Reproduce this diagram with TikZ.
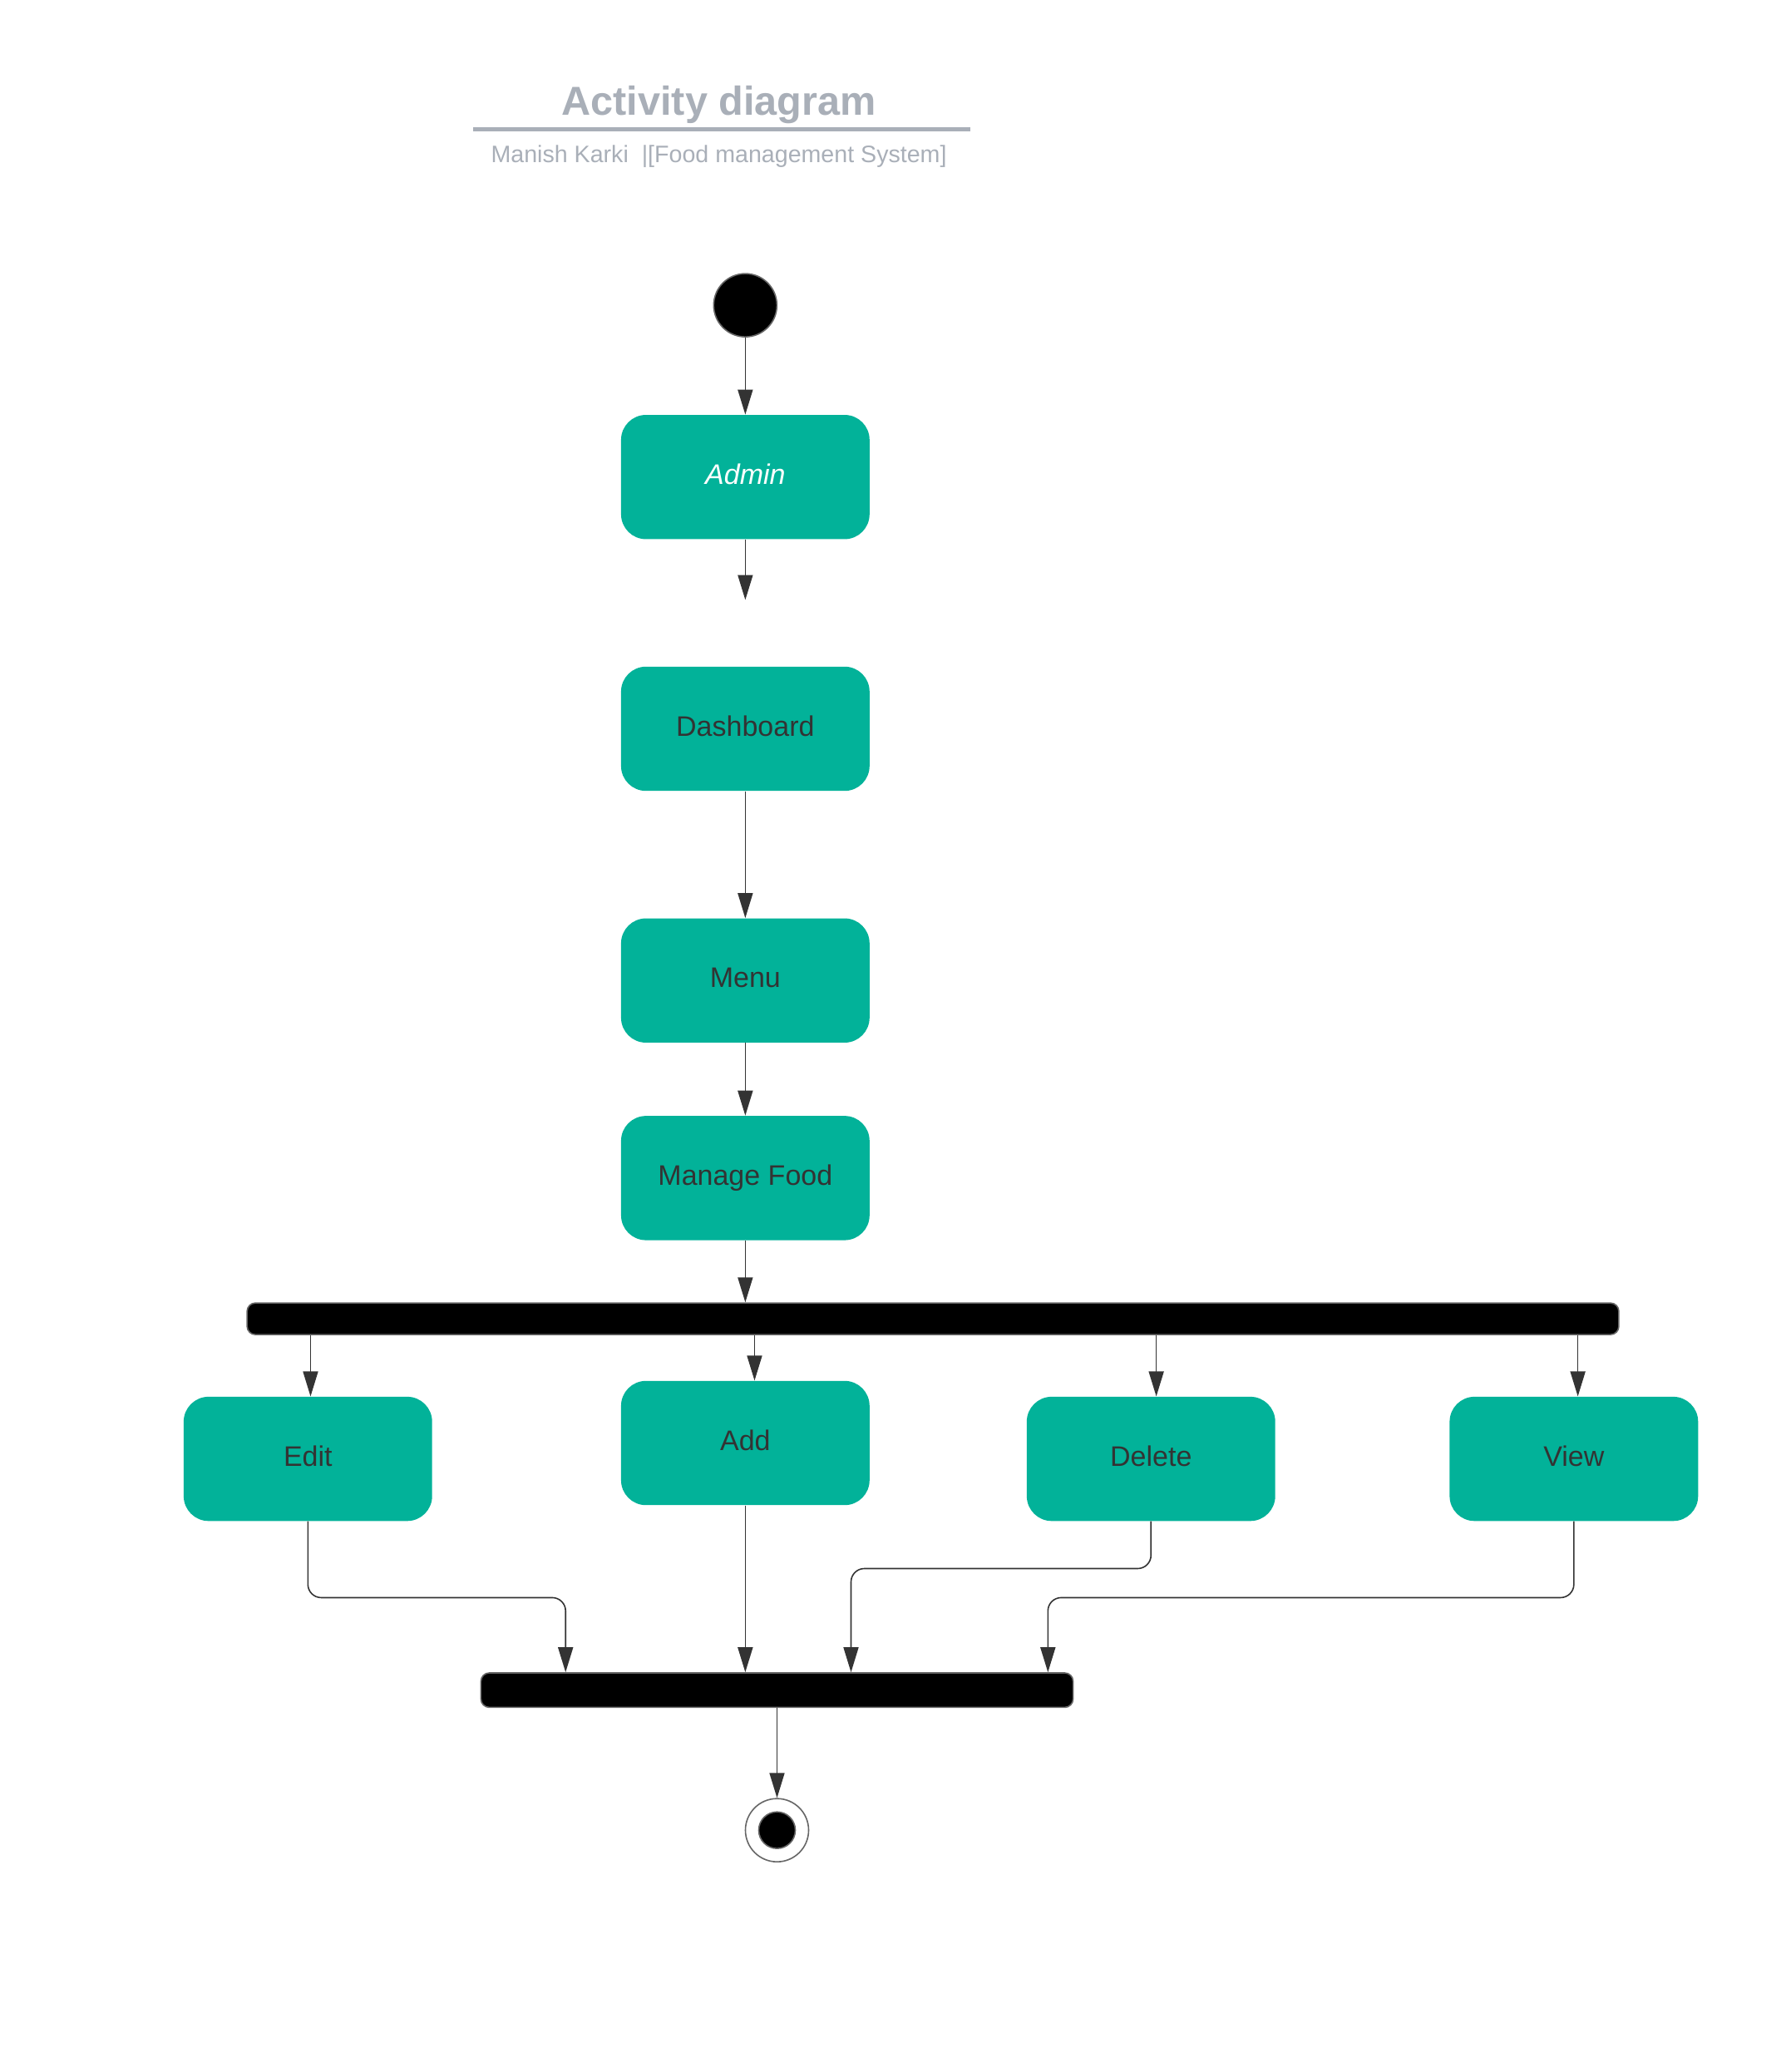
\documentclass[tikz,border=0pt]{standalone}
\usepackage{fontspec}
\setmainfont{Liberation Sans}
\usetikzlibrary{arrows.meta}
\definecolor{actteal}{HTML}{02B299}
\definecolor{ink}{HTML}{333333}
\definecolor{titlegray}{HTML}{A9AFB8}
\definecolor{rimgray}{HTML}{666666}
\begin{document}
\begin{tikzpicture}[x=0.7945pt,y=-0.7945pt,
  activity/.style={rectangle, rounded corners=15pt, fill=actteal,
    minimum width=149.4pt, minimum height=74.7pt, inner sep=0pt,
    text depth=3.6pt, text=ink, font=\fontsize{17}{20}\selectfont},
  syncbar/.style={rectangle, rounded corners=5pt, fill=black,
    draw=rimgray, line width=0.8pt, inner sep=0pt},
  flow/.style={draw=ink, line width=0.8pt, rounded corners=8pt,
    -{Triangle[length=15pt,width=9pt]}},
]
\useasboundingbox (0,0) rectangle (1355,1568);

% heading
\node[text=titlegray, font=\fontsize{24.3}{28}\selectfont\bfseries] (title) at (544,79.5) {Activity diagram};
\coordinate (ruleL) at (358,98);
\coordinate (ruleR) at (734,98);
\draw[titlegray, line width=2.4pt] (ruleL) -- (ruleR);
\node[text=titlegray, font=\fontsize{14.3}{17}\selectfont] (subtitle) at (544,118.5) {Manish Karki\ \ |[Food management System]};

% start state
\node[circle, fill=black, draw=rimgray, line width=0.8pt, minimum size=38pt, inner sep=0pt] (start) at (564,231) {};

% activities
\node[activity, text=white, font=\fontsize{17}{20}\selectfont\itshape] (admin) at (564,361) {Admin};
\coordinate (adminout) at (564,454);
\node[activity] (dash) at (564,551.5) {Dashboard};
\node[activity] (menu) at (564,742) {Menu};
\node[activity] (manage) at (564,891.5) {Manage Food};

% fork
\node[syncbar, minimum width=824.7pt, minimum height=19pt] (fork) at (706,998) {};

\node[activity] (edit) at (233,1104) {Edit};
\node[activity] (add) at (564,1092) {Add};
\node[activity] (delete) at (871,1104) {Delete};
\node[activity] (view) at (1191,1104) {View};

% join
\node[syncbar, minimum width=356pt, minimum height=20.7pt] (join) at (588,1279) {};

% final state
\node[circle, fill=white, draw=rimgray, line width=0.8pt, minimum size=38pt, inner sep=0pt] (endo) at (588,1385) {};
\node[circle, fill=black, draw=rimgray, line width=0.8pt, minimum size=22pt, inner sep=0pt] (endi) at (588,1385) {};

% control flow
\draw[flow] (start) -- (admin);
\draw[flow] (admin) -- (adminout);
\draw[flow] (dash) -- (menu);
\draw[flow] (menu) -- (manage);
\draw[flow] (manage) -- (manage.south |- fork.north);

\coordinate (fe) at (235,0);
\coordinate (fa) at (571,0);
\coordinate (fd) at (875,0);
\coordinate (fv) at (1194,0);
\draw[flow] (fork.south -| fe) -- (edit.north -| fe);
\draw[flow] (fork.south -| fa) -- (add.north -| fa);
\draw[flow] (fork.south -| fd) -- (delete.north -| fd);
\draw[flow] (fork.south -| fv) -- (view.north -| fv);

\coordinate (ej) at (428,1209);
\coordinate (dj) at (644,1187);
\coordinate (vj) at (793,1209);
\draw[flow] (edit.south) |- (ej) -- (join.north -| ej);
\draw[flow] (add) -- (add.south |- join.north);
\draw[flow] (delete.south) |- (dj) -- (join.north -| dj);
\draw[flow] (view.south) |- (vj) -- (join.north -| vj);

\draw[flow] (join) -- (endo);
\end{tikzpicture}
\end{document}
